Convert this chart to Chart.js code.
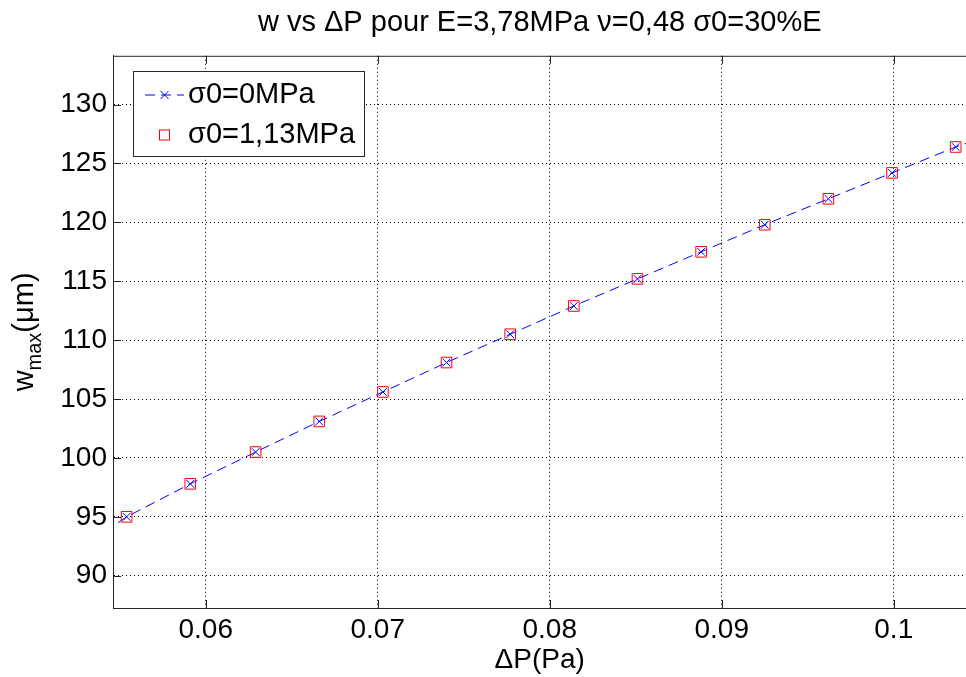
<!DOCTYPE html>
<html>
<head>
<meta charset="utf-8">
<script src="https://cdn.jsdelivr.net/npm/chart.js@4"></script>
<style>
  html, body { margin: 0; padding: 0; background: #fff; overflow: hidden; }
  #wrap { width: 975px; height: 677px; }
</style>
</head>
<body>
<div id="wrap"><canvas id="chart"></canvas></div>
<script>
const deltaP = [0.0554, 0.0591, 0.0629, 0.0666, 0.0703, 0.0740, 0.0777, 0.0814, 0.0851, 0.0888, 0.0925, 0.0962, 0.0999, 0.1036];
const wSigma0 = [95.0, 97.8, 100.5, 103.1, 105.6, 108.1, 110.5, 112.9, 115.2, 117.5, 119.8, 122.0, 124.2, 126.4];
const wSigma113 = [95.0, 97.8, 100.5, 103.1, 105.6, 108.1, 110.5, 112.9, 115.2, 117.5, 119.8, 122.0, 124.2, 126.4];
// dashed line runs a bit past the first and last marker
const lineStart = [0.0549, 94.5];
const lineEnd = [0.1042, 126.7];
const seriesLabels = ["σ0=0MPa", "σ0=1,13MPa"];
const xTicks = [0.06, 0.07, 0.08, 0.09, 0.1];
const yTicks = [90, 95, 100, 105, 110, 115, 120, 125, 130];

const FONT = "'Liberation Sans', Arial, sans-serif";

const bluePts = [{ x: lineStart[0], y: lineStart[1] }]
  .concat(deltaP.map((p, i) => ({ x: p, y: wSigma0[i] })))
  .concat([{ x: lineEnd[0], y: lineEnd[1] }]);
const blueRadius = bluePts.map((p, i) => (i === 0 || i === bluePts.length - 1) ? 0 : 5.5);
const redPts = deltaP.map((p, i) => ({ x: p, y: wSigma113[i] }));

const framePlugin = {
  id: "frame",
  afterDraw(chart) {
    const { ctx, chartArea: a, scales: { x, y } } = chart;
    ctx.save();
    // top border + inward ticks
    ctx.strokeStyle = "#262626";
    ctx.lineWidth = 1;
    ctx.setLineDash([]);
    ctx.beginPath();
    ctx.moveTo(a.left, a.top + 0.5);
    ctx.lineTo(a.right, a.top + 0.5);
    xTicks.forEach(v => {
      const px = Math.round(x.getPixelForValue(v)) + 0.5;
      ctx.moveTo(px, a.bottom); ctx.lineTo(px, a.bottom - 8);
      ctx.moveTo(px, a.top); ctx.lineTo(px, a.top + 8);
    });
    yTicks.forEach(v => {
      const py = Math.round(y.getPixelForValue(v)) + 0.5;
      ctx.moveTo(a.left, py); ctx.lineTo(a.left + 8, py);
    });
    ctx.stroke();

    // legend box
    const lx = 133, ly = 71, lw = 231, lh = 85;
    ctx.fillStyle = "#fff";
    ctx.fillRect(lx, ly, lw, lh);
    ctx.strokeStyle = "#262626";
    ctx.strokeRect(lx + 0.5, ly + 0.5, lw, lh);

    const r1 = 95, r2 = 135, mx = 164.5;
    ctx.strokeStyle = "#0000ff";
    ctx.setLineDash([10, 6]);
    ctx.beginPath();
    ctx.moveTo(145, r1); ctx.lineTo(184, r1);
    ctx.stroke();
    ctx.setLineDash([]);
    ctx.beginPath();
    ctx.moveTo(mx - 4, r1 - 4); ctx.lineTo(mx + 4, r1 + 4);
    ctx.moveTo(mx - 4, r1 + 4); ctx.lineTo(mx + 4, r1 - 4);
    ctx.stroke();
    ctx.strokeStyle = "#ff0000";
    ctx.strokeRect(mx - 5, r2 - 5, 10, 10);

    ctx.fillStyle = "#000";
    ctx.font = "29px " + FONT;
    ctx.textBaseline = "middle";
    ctx.textAlign = "left";
    ctx.fillText(seriesLabels[0], 188, r1);
    ctx.fillText(seriesLabels[1], 188, r2);

    // y axis title with subscript
    const main = "29px " + FONT, sub = "20px " + FONT;
    ctx.font = main; const w1 = ctx.measureText("w").width;
    const w3 = ctx.measureText("(μm)").width;
    ctx.font = sub; const w2 = ctx.measureText("max").width;
    const total = w1 + w2 + w3;
    ctx.translate(33, (a.top + a.bottom) / 2);
    ctx.rotate(-Math.PI / 2);
    ctx.textBaseline = "alphabetic";
    let cx = -total / 2;
    ctx.font = main; ctx.fillText("w", cx, 0); cx += w1;
    ctx.font = sub; ctx.fillText("max", cx, 8); cx += w2;
    ctx.font = main; ctx.fillText("(μm)", cx, 0);
    ctx.restore();
  }
};

new Chart(document.getElementById("chart"), {
  type: "scatter",
  data: {
    datasets: [
      {
        label: seriesLabels[0],
        data: bluePts,
        showLine: true,
        borderColor: "#0000ff",
        borderWidth: 1,
        borderDash: [10, 6],
        pointStyle: "crossRot",
        pointRadius: blueRadius,
        pointBorderColor: "#0000ff",
        pointBorderWidth: 1,
        order: 1
      },
      {
        label: seriesLabels[1],
        data: redPts,
        showLine: false,
        pointStyle: "rect",
        pointRadius: 7.5,
        pointBorderColor: "#ff0000",
        pointBackgroundColor: "rgba(0,0,0,0)",
        pointBorderWidth: 1,
        order: 0
      }
    ]
  },
  options: {
    responsive: true,
    maintainAspectRatio: false,
    animation: false,
    layout: { padding: 0 },
    plugins: {
      legend: { display: false },
      tooltip: { enabled: false },
      title: {
        display: true,
        text: "w vs ΔP pour E=3,78MPa ν=0,48 σ0=30%E",
        fullSize: false,
        color: "#000",
        font: { family: FONT, size: 29, weight: "normal" },
        padding: { top: 6, bottom: 15 }
      }
    },
    scales: {
      x: {
        type: "linear",
        min: 0.054607,
        max: 0.104229,
        afterBuildTicks: s => { s.ticks = xTicks.map(v => ({ value: v })); },
        afterFit: s => { s.height = 69; s.paddingRight = 0; s.paddingLeft = 0; },
        grid: { color: "#000", drawTicks: false },
        border: { display: true, color: "#262626", width: 1, dash: [1, 3] },
        ticks: {
          color: "#000",
          font: { family: FONT, size: 28 },
          padding: 5,
          maxRotation: 0,
          callback: v => String(v)
        },
        title: {
          display: true,
          text: "ΔP(Pa)",
          color: "#000",
          font: { family: FONT, size: 28 },
          padding: { top: 0, bottom: 0 }
        }
      },
      y: {
        type: "linear",
        min: 87.26,
        max: 134.14,
        afterBuildTicks: s => { s.ticks = yTicks.map(v => ({ value: v })); },
        afterFit: s => { s.width = 113; s.paddingTop = 0; s.paddingBottom = 0; },
        grid: { color: "#000", drawTicks: false },
        border: { display: true, color: "#262626", width: 1, dash: [1, 3] },
        ticks: {
          color: "#000",
          font: { family: FONT, size: 28 },
          padding: 6,
          callback: v => String(v)
        }
      }
    }
  },
  plugins: [framePlugin]
});
</script>
</body>
</html>
